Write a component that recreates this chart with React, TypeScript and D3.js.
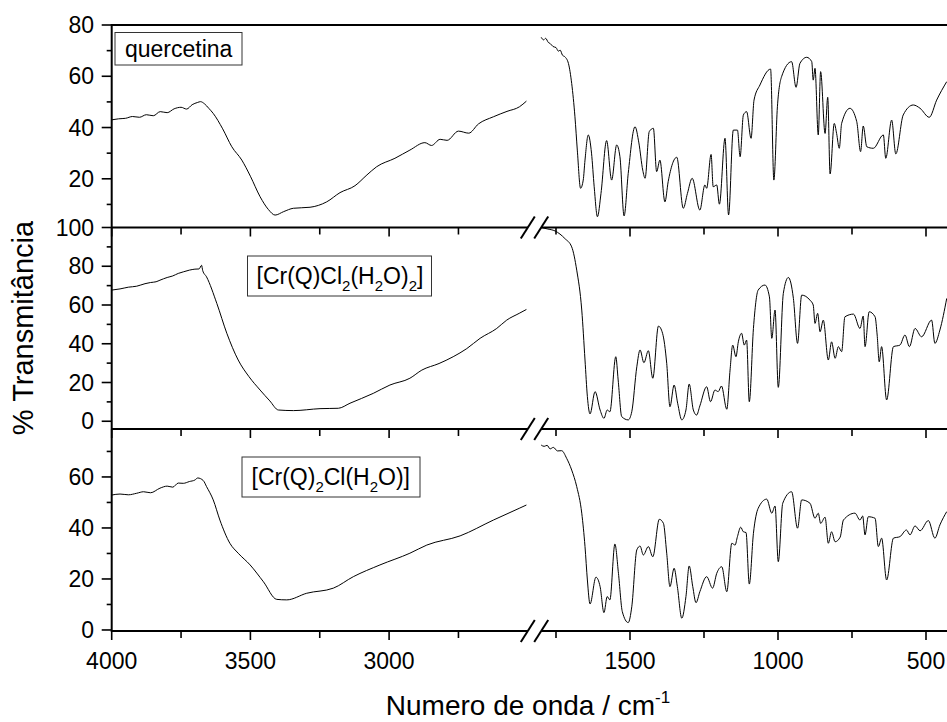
import React from 'react';
import * as d3 from 'd3';

type Pt = [number, number];

// ---------- data (wavenumber cm-1, %T) ----------
const querLeft: Pt[] = [[4000,43.0],[3975,43.4],[3950,43.6],[3925,44.3],[3900,44.0],[3875,45.0],[3850,44.6],[3825,46.2],[3800,45.8],[3775,47.3],[3750,47.9],[3730,47.2],[3710,48.9],[3690,49.8],[3680,50.1],[3665,49.2],[3650,47.5],[3634,45.5],[3600,39.5],[3567,32.5],[3531,27.3],[3500,21],[3465,13],[3435,8],[3411,5.85],[3380,7.2],[3345,8.5],[3285,8.9],[3225,11],[3177,14.6],[3123,17.3],[3080,21.5],[3045,24.7],[2979,28],[2925,31.2],[2871,34.1],[2847,33],[2816,35.4],[2791,35],[2750,38.6],[2713,37.8],[2678,41.4],[2624,44.2],[2575,46.3],[2530,48.1],[2505,50.3]];
const querRight: Pt[] = [[1800,75.2],[1792,74.2],[1785,74.8],[1776,73.2],[1770,72.8],[1760,71.6],[1750,71.2],[1742,69.8],[1736,70.2],[1728,68.2],[1720,67.6],[1708,65.0],[1697,57.2],[1686,44.2],[1678,31.2],[1667,16.3],[1658,19.5],[1652,27.3],[1641,37.1],[1630,30],[1621,16.9],[1610,5.2],[1598,14.3],[1579,34.9],[1562,19.5],[1545,33.2],[1534,28.6],[1520,5.5],[1506,22.1],[1483,40.3],[1470,34],[1457,23.4],[1449,20.2],[1435,38.4],[1421,39.7],[1410,22.8],[1399,27.3],[1382,11],[1371,18.9],[1342,28.4],[1320,8.5],[1306,14.3],[1290,20.2],[1264,7.8],[1247,17.6],[1241,16.3],[1226,29.5],[1219,16.9],[1207,17.6],[1198,10.1],[1179,35.8],[1167,5.9],[1151,39],[1137,39],[1128,28.6],[1117,44.9],[1106,46.2],[1091,35.8],[1081,50.7],[1061,56.6],[1025,62.8],[1014,19.5],[1002,48.1],[988,59.8],[954,65.7],[939,55.7],[926,65],[903,67.4],[886,65.7],[881,58.5],[875,63.1],[864,37.1],[856,61.8],[841,37.7],[832,51.8],[824,21.9],[810,41.6],[802,37.7],[793,31.9],[785,41.6],[757,47.5],[734,42.3],[721,30.6],[712,40.6],[700,32.5],[678,31.9],[644,37.1],[636,28],[616,42.9],[602,29.7],[577,44.9],[543,48.8],[520,47.5],[489,44],[464,50.7],[430,57.9]];

const crClLeft: Pt[] = [[4000,67.7],[3970,68.3],[3940,69.2],[3910,69.7],[3880,71.0],[3860,71.6],[3840,72.0],[3826,72.8],[3800,74.2],[3780,75.0],[3760,76.3],[3742,77.1],[3720,78.0],[3700,78.5],[3685,78.6],[3676,80.5],[3672,77.8],[3658,74.5],[3621,60.8],[3585,45.4],[3544,31.6],[3505,23],[3465,16.1],[3430,10.5],[3399,5.8],[3345,5.5],[3249,6.5],[3183,6.7],[3141,9.3],[3057,14.4],[2997,18.7],[2925,22.2],[2882,26.4],[2820,29.8],[2769,33.3],[2720,37.5],[2672,42.8],[2612,47.9],[2576,52.2],[2531,55.7],[2505,57.7]];
const crClRight: Pt[] = [[1800,100],[1780,99.3],[1753,98.2],[1720,94.3],[1697,90],[1680,78],[1663,57.4],[1652,31.6],[1644,12.7],[1635,3.8],[1618,15.3],[1601,5.8],[1588,1.5],[1577,5.8],[1568,4.9],[1548,33.3],[1540,21.3],[1528,2.4],[1506,0.7],[1494,4.9],[1477,28.1],[1466,36.8],[1453,30.2],[1438,36.4],[1423,22.2],[1404,49.1],[1390,45.4],[1376,29.9],[1365,7.5],[1351,18.7],[1339,9.3],[1325,0.7],[1311,5.8],[1300,19.2],[1286,5.8],[1275,3.2],[1264,7.9],[1241,17.8],[1228,10.1],[1213,16.1],[1202,15.3],[1191,18.2],[1173,6.2],[1162,26.4],[1153,39.3],[1142,33.3],[1134,41],[1123,45.4],[1114,39.3],[1106,41.9],[1097,10.1],[1083,47.9],[1067,67.7],[1044,70.3],[1029,64.2],[1021,42.8],[1010,57.4],[999,17.5],[982,66],[965,74.2],[948,63.4],[934,40.2],[920,65.1],[892,62.5],[881,60],[875,50.5],[866,55.7],[858,46.2],[847,52.2],[830,31.6],[819,41],[807,32.5],[796,38.5],[785,35.9],[774,53.9],[745,55.3],[723,47.9],[712,54.3],[706,38.5],[692,56.5],[672,53.9],[665,44.5],[658,30.7],[650,38.5],[633,11],[610,38.5],[588,39.3],[571,44.5],[556,38.5],[537,47.9],[515,43.6],[481,52.2],[470,40.2],[453,47.1],[430,63.4]];

const crQ2Left: Pt[] = [[4000,52.9],[3970,53.3],[3940,53.0],[3910,53.6],[3885,54.2],[3860,53.8],[3826,55.6],[3800,56.4],[3780,56.0],[3760,57.6],[3742,57.5],[3720,58.2],[3700,58.8],[3690,59.6],[3670,58.6],[3658,56.2],[3634,51],[3610,43.1],[3574,34],[3544,30.1],[3501,25.5],[3453,18.9],[3405,12],[3369,11.8],[3297,14.4],[3201,16.4],[3129,20.9],[3033,25.5],[2925,30.1],[2864,33.3],[2744,36.9],[2624,43.1],[2531,47.7],[2505,49]];
const crQ2Right: Pt[] = [[1800,72.5],[1790,72.0],[1780,72.4],[1770,71.0],[1759,71.6],[1745,70.2],[1731,70.3],[1714,67.3],[1697,62.7],[1680,56.2],[1663,45.8],[1652,32.7],[1644,19.6],[1635,10.2],[1615,20.7],[1601,17],[1588,6.8],[1577,13.1],[1568,11.8],[1551,33.7],[1539,22.2],[1526,7.2],[1506,2.9],[1494,9.1],[1477,31.4],[1466,32.9],[1455,29.4],[1438,32.7],[1423,28.7],[1401,43.4],[1387,41.8],[1376,30.1],[1365,17],[1351,24.2],[1340,17],[1325,4.6],[1311,13.1],[1300,25.1],[1288,17],[1277,10.7],[1264,15],[1241,20.9],[1221,16.4],[1207,22.2],[1190,24.8],[1173,15],[1156,34],[1145,33.3],[1137,36.6],[1126,40.3],[1117,38.5],[1108,38.2],[1097,18],[1083,37.9],[1067,47.7],[1038,51.3],[1021,45.8],[1010,48.6],[999,26.8],[984,49.7],[954,54.2],[934,39.9],[920,51],[892,49.7],[875,43.8],[864,45.8],[856,41.8],[841,44.2],[830,34],[819,38.5],[807,34.6],[790,36.4],[779,43.1],[740,45.8],[723,43.1],[714,44.7],[706,37.3],[695,44.4],[672,43.8],[661,32.7],[650,36],[633,19.6],[610,36],[588,36.6],[566,39.2],[554,37.3],[537,40.8],[520,38.9],[492,42.9],[470,36],[453,41.2],[430,46.4]];

const xLeftMajor = [4000, 3500, 3000];
const xLeftMinor = [3750, 3250, 2750];
const xRightMajor = [1500, 1000, 500];
const xRightMinor = [1750, 1250, 750];

const yTicks1 = [20, 40, 60, 80];
const yMinor1 = [10, 30, 50, 70];
const yTicks2 = [0, 20, 40, 60, 80, 100];
const yMinor2 = [10, 30, 50, 70, 90];
const yTicks3 = [0, 20, 40, 60];
const yMinor3 = [10, 30, 50, 70];

type Seg = { t: string; sub?: boolean };
const label1: Seg[] = [{ t: 'quercetina' }];
const label2: Seg[] = [{ t: '[Cr(Q)Cl' }, { t: '2', sub: true }, { t: '(H' }, { t: '2', sub: true }, { t: 'O)' }, { t: '2', sub: true }, { t: ']' }];
const label3: Seg[] = [{ t: '[Cr(Q)' }, { t: '2', sub: true }, { t: 'Cl(H' }, { t: '2', sub: true }, { t: 'O)]' }];

// ---------- layout ----------
const W = 947, H = 722;
const AX = 111.7;
const FONT = 'Liberation Sans, Arial, Helvetica, sans-serif';
const xLeft = d3.scaleLinear().domain([4000, 2500]).range([AX, 527.8]);
const xRight = d3.scaleLinear().domain([1800, 400]).range([541.2, 955.6]);

const panels = [
  { left: querLeft, right: querRight, y: d3.scaleLinear().domain([1, 80]).range([227.5, 25]), major: yTicks1, minor: yMinor1, label: label1, box: [115, 32.5, 127, 32.5], tx: 125, ty: 57 },
  { left: crClLeft, right: crClRight, y: d3.scaleLinear().domain([-4, 100]).range([429, 227.5]), major: yTicks2, minor: yMinor2, label: label2, box: [247.5, 256, 184, 40], tx: 256.5, ty: 284 },
  { left: crQ2Left, right: crQ2Right, y: d3.scaleLinear().domain([-0.4, 78.8]).range([631, 429]), major: yTicks3, minor: yMinor3, label: label3, box: [242, 457, 178, 40], tx: 251.5, ty: 485 },
];

const Label = ({ segs, x, y }: { segs: Seg[]; x: number; y: number }) => (
  <text x={x} y={y} fontFamily={FONT} fontSize={23} fill="#000">
    {segs.map((s, i) => {
      const prevSub = i > 0 && segs[i - 1].sub;
      const dy = s.sub ? 7 : prevSub ? -7 : 0;
      return (
        <tspan key={i} dy={dy} fontSize={s.sub ? 15 : 23}>{s.t}</tspan>
      );
    })}
  </text>
);

export default function App() {
  const boundaries = [227.5, 429, 631];
  return (
    <svg width={W} height={H} style={{ position: 'absolute', left: 0, top: 0, background: '#fff' }}>
      <rect x={0} y={0} width={W} height={H} fill="#fff" />
      {panels.map((p, pi) => {
        const lineL = d3.line<Pt>().x(d => xLeft(d[0])).y(d => p.y(d[1])).curve(d3.curveMonotoneX);
        const lineR = d3.line<Pt>().x(d => xRight(d[0])).y(d => p.y(d[1])).curve(d3.curveMonotoneX);
        return (
          <g key={pi}>
            <path d={lineL(p.left) || ''} fill="none" stroke="#000" strokeWidth={1} />
            <path d={lineR(p.right) || ''} fill="none" stroke="#000" strokeWidth={1} />
            {p.major.map(v => (
              <g key={'M' + v}>
                <line x1={AX - 10} x2={AX} y1={p.y(v)} y2={p.y(v)} stroke="#000" strokeWidth={1.6} />
                <text x={94} y={p.y(v) + 8} textAnchor="end" fontFamily={FONT} fontSize={23}>{v}</text>
              </g>
            ))}
            {p.minor.map(v => (
              <line key={'m' + v} x1={AX - 5} x2={AX} y1={p.y(v)} y2={p.y(v)} stroke="#000" strokeWidth={1.6} />
            ))}
            <rect x={p.box[0]} y={p.box[1]} width={p.box[2]} height={p.box[3]} fill="#fff" stroke="#333" strokeWidth={1} />
            <Label segs={p.label} x={p.tx} y={p.ty} />
          </g>
        );
      })}
      {/* top frame line */}
      <line x1={AX} x2={W} y1={25} y2={25} stroke="#000" strokeWidth={2} />
      {/* y axis line */}
      <line x1={AX} x2={AX} y1={24} y2={632} stroke="#000" strokeWidth={2} />
      {boundaries.map((by, bi) => (
        <g key={bi}>
          <line x1={AX} x2={xLeft(2500)} y1={by} y2={by} stroke="#000" strokeWidth={2} />
          <line x1={xRight(1800)} x2={W} y1={by} y2={by} stroke="#000" strokeWidth={2} />
          {[xLeft(2500), xRight(1800)].map((cx, k) => (
            <line key={k} x1={cx - 7} y1={by + 11} x2={cx + 7} y2={by - 11} stroke="#000" strokeWidth={2} />
          ))}
          {xLeftMajor.map(v => <line key={'lM' + v} x1={xLeft(v)} x2={xLeft(v)} y1={by} y2={by + 9} stroke="#000" strokeWidth={1.6} />)}
          {xLeftMinor.map(v => <line key={'lm' + v} x1={xLeft(v)} x2={xLeft(v)} y1={by} y2={by + 7} stroke="#000" strokeWidth={1.6} />)}
          {xRightMajor.map(v => <line key={'rM' + v} x1={xRight(v)} x2={xRight(v)} y1={by} y2={by + 9} stroke="#000" strokeWidth={1.6} />)}
          {xRightMinor.map(v => <line key={'rm' + v} x1={xRight(v)} x2={xRight(v)} y1={by} y2={by + 7} stroke="#000" strokeWidth={1.6} />)}
        </g>
      ))}
      {xLeftMajor.map(v => (
        <text key={'xl' + v} x={xLeft(v)} y={669} textAnchor="middle" fontFamily={FONT} fontSize={23}>{v}</text>
      ))}
      {xRightMajor.map(v => (
        <text key={'xr' + v} x={xRight(v)} y={669} textAnchor="middle" fontFamily={FONT} fontSize={23}>{v}</text>
      ))}
      <text x={528} y={715} textAnchor="middle" fontFamily={FONT} fontSize={28}>
        Numero de onda / cm<tspan dy={-12} fontSize={17}>-1</tspan>
      </text>
      <text transform="translate(33,328) rotate(-90)" textAnchor="middle" fontFamily={FONT} fontSize={29}>% Transmitância</text>
    </svg>
  );
}
